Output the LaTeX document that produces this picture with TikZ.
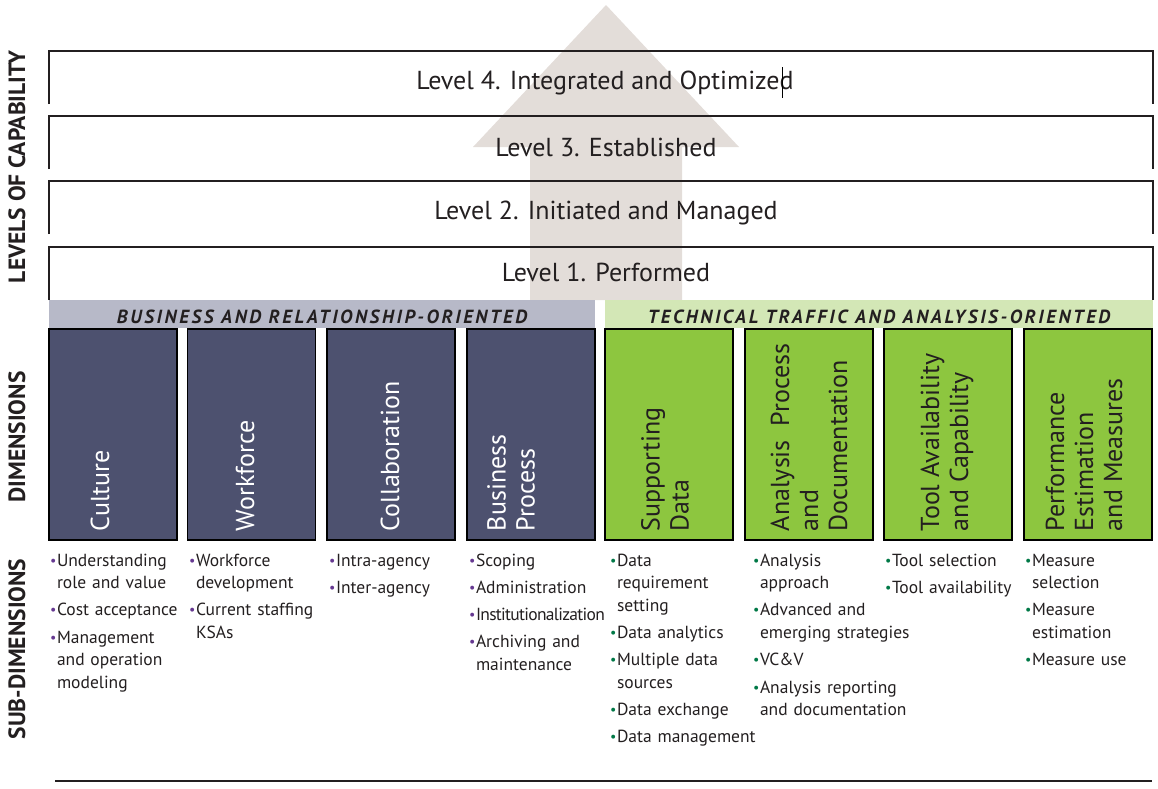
\documentclass[tikz,border=0pt]{standalone}
\usepackage{fontspec}
\setmainfont{PT Sans}
\usetikzlibrary{positioning,calc}

\definecolor{arrowgrey}{RGB}{227,221,217}
\definecolor{busgrey}{RGB}{183,185,200}
\definecolor{techgreen}{RGB}{211,231,182}
\definecolor{dimnavy}{RGB}{77,81,111}
\definecolor{dimgreen}{RGB}{141,198,63}
\definecolor{inkdark}{RGB}{35,31,32}
\definecolor{bulpurple}{RGB}{102,57,145}
\definecolor{bulgreen}{RGB}{0,120,70}

\newcommand{\ditem}[2]{\hangindent=7pt\hangafter=1\noindent\makebox[7pt][l]{\textcolor{#1}{\raisebox{1pt}{\fontsize{14}{14}\selectfont\textbullet}}}#2\par}

\begin{document}
\begin{tikzpicture}
  [x=1pt,y=-1pt,
   every node/.style={inner sep=0pt,outer sep=0pt,text=inkdark},
   levelbox/.style={minimum width=1104pt,minimum height=53pt},
   levelline/.style={draw=inkdark,line width=2pt},
   leveltext/.style={anchor=base,font=\fontsize{26}{26}\selectfont},
   bandbox/.style={minimum height=28pt,text height=18.5pt,text depth=0pt,
     font=\fontsize{19}{19}\selectfont\bfseries\itshape\addfontfeature{LetterSpace=14}},
   dimbox/.style={draw=black,line width=1.2pt,minimum width=128pt,minimum height=211pt},
   dimtext/.style={rotate=90,anchor=west,align=left,font=\fontsize{26}{29}\selectfont},
   sidelabel/.style={rotate=90,font=\fontsize{23.5}{23.5}\selectfont\bfseries},
   sublist/.style={anchor=base west,text width=170pt,align=left,
     font=\fontsize{17.5}{22.7}\selectfont,execute at begin node={\setlength{\parskip}{4.5pt}}}]
  \useasboundingbox (0,0) rectangle (1158,788);

  % big arrow behind the levels
  \fill[arrowgrey] (530,300) -- (530,147) -- (473,147) -- (606,5) -- (739,147)
    -- (682,147) -- (682,300) -- cycle;

  % levels of capability
  \foreach \n/\y in {4/77.5,3/142.5,2/207.5,1/273.5}{
    \node[levelbox] (lev\n) at (601,\y) {};
    \draw[levelline] (lev\n.south west) |- (lev\n.north east) -- (lev\n.south east);
  }
  \node[leveltext] (lev4txt) at (605,89) {Level 4. Integrated and Optimized};
  \node[leveltext] (lev3txt) at (606,156) {Level 3. Established};
  \node[leveltext] (lev2txt) at (606,219) {Level 2. Initiated and Managed};
  \node[leveltext] (lev1txt) at (606,281) {Level 1. Performed};
  \draw[line width=0.8pt] (782,67) -- (782,98);

  % two groups of dimensions
  \node[bandbox,fill=busgrey,minimum width=546pt] (busband) at (322,314)
    {BUSINESS AND RELATIONSHIP-ORIENTED};
  \node[bandbox,fill=techgreen,minimum width=548pt] (techband) at (879,314)
    {TECHNICAL TRAFFIC AND ANALYSIS-ORIENTED};

  % dimensions
  \foreach \nm/\x/\col in {cult/113/dimnavy,work/251.5/dimnavy,collab/391/dimnavy,
      busproc/531/dimnavy,suppdata/669/dimgreen,anproc/809/dimgreen,
      tool/948/dimgreen,perf/1088/dimgreen}
    \node[dimbox,fill=\col] (\nm) at (\x,434.5) {};

  \node[dimtext,text=white] (culttxt) at (100,531) {Culture};
  \node[dimtext,text=white] (worktxt) at (245,531) {Workforce};
  \node[dimtext,text=white] (collabtxt) at (390,531) {Collaboration};
  \node[dimtext,text=white] (busproctxt) at (511,531) {Business\\Process};
  \node[dimtext] (suppdatatxt) at (665,531) {Supporting\\Data};
  \node[dimtext] (anproctxt) at (809,531) {Analysis\ \ Process\\and\\Documentation};
  \node[dimtext] (tooltxt) at (947,531) {Tool Availability\\and Capability};
  \node[dimtext] (perftxt) at (1084,531) {Performance\\Estimation\\and Measures};

  % sub-dimensions
  \node[sublist] (cultsub) at (50,566) {%
    \ditem{bulpurple}{Understanding\newline role and value}
    \ditem{bulpurple}{Cost acceptance}
    \ditem{bulpurple}{Management\newline and operation\newline modeling}};
  \node[sublist] (worksub) at (189,566) {%
    \ditem{bulpurple}{Workforce\newline development}
    \ditem{bulpurple}{Current staffing\newline KSAs}};
  \node[sublist] (collabsub) at (329,566) {%
    \ditem{bulpurple}{Intra-agency}
    \ditem{bulpurple}{Inter-agency}};
  \node[sublist] (busprocsub) at (469,566) {%
    \ditem{bulpurple}{Scoping}
    \ditem{bulpurple}{Administration}
    \ditem{bulpurple}{{\addfontfeature{LetterSpace=-4}Institutionalization}}
    \ditem{bulpurple}{Archiving and\newline maintenance}};
  \node[sublist] (suppdatasub) at (610,566) {%
    \ditem{bulgreen}{Data\newline requirement\newline setting}
    \ditem{bulgreen}{Data analytics}
    \ditem{bulgreen}{Multiple data\newline sources}
    \ditem{bulgreen}{Data exchange}
    \ditem{bulgreen}{Data management}};
  \node[sublist] (anprocsub) at (753,566) {%
    \ditem{bulgreen}{Analysis\newline approach}
    \ditem{bulgreen}{Advanced and\newline emerging strategies}
    \ditem{bulgreen}{VC\&V}
    \ditem{bulgreen}{Analysis reporting\newline and documentation}};
  \node[sublist] (toolsub) at (885,566) {%
    \ditem{bulgreen}{Tool selection}
    \ditem{bulgreen}{Tool availability}};
  \node[sublist] (perfsub) at (1025,566) {%
    \ditem{bulgreen}{Measure\newline selection}
    \ditem{bulgreen}{Measure\newline estimation}
    \ditem{bulgreen}{Measure use}};

  % row labels
  \node[sidelabel] (levlab) at (17,167) {LEVELS OF CAPABILITY};
  \node[sidelabel] (dimlab) at (17,437) {DIMENSIONS};
  \node[sidelabel] (sublab) at (17,649) {SUB-DIMENSIONS};

  \draw[line width=1.2pt,inkdark] (55,781) -- (1152,781);
\end{tikzpicture}
\end{document}
